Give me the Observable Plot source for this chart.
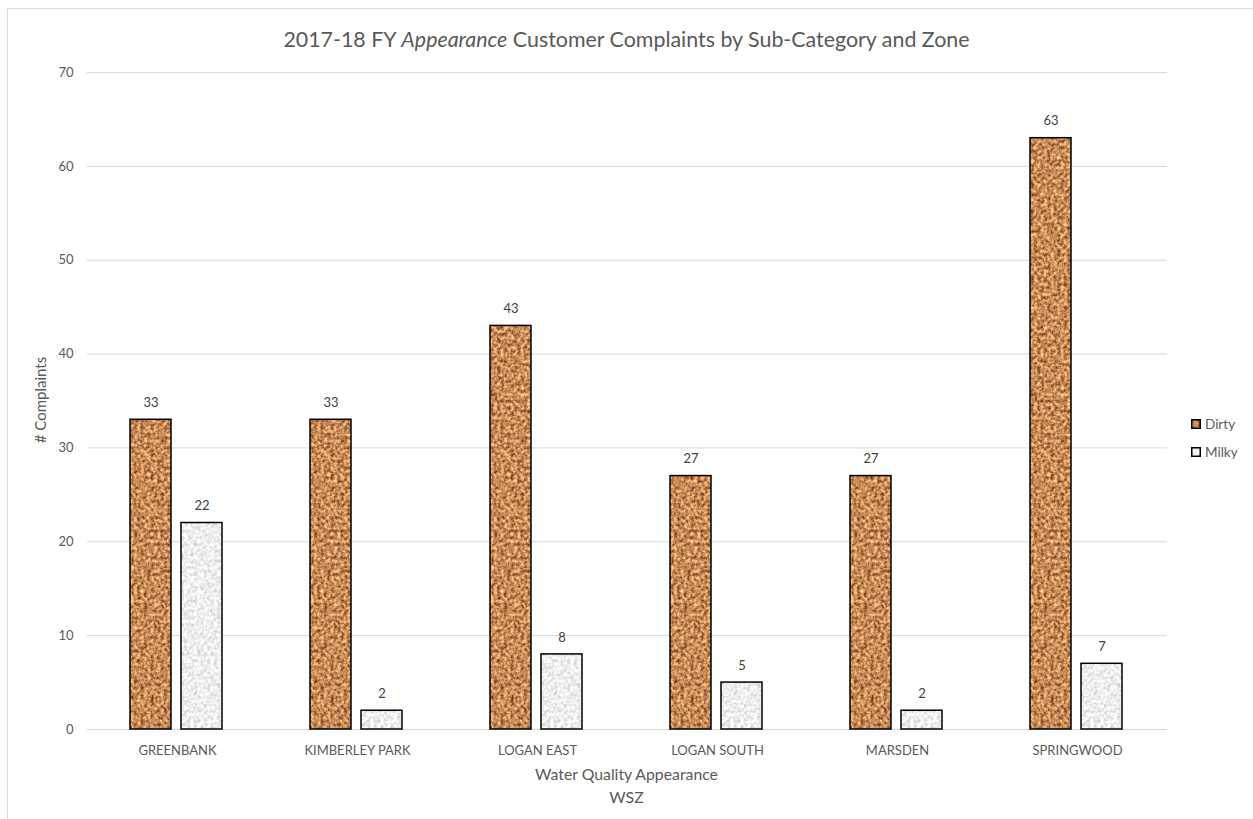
<!DOCTYPE html>
<html>
<head>
<meta charset="utf-8">
<script src="https://cdn.jsdelivr.net/npm/d3@7"></script>
<script src="https://cdn.jsdelivr.net/npm/@observablehq/plot@0.6"></script>
<style>
  html, body { margin: 0; padding: 0; background: #fff; }
  body { width: 1253px; height: 819px; position: relative; overflow: hidden; font-family: Lato, "Open Sans", sans-serif; color: #595959; }
  #frame { position: absolute; left: 7px; top: 8px; width: 1245px; height: 830px; border-left: 1.5px solid #d9d9d9; border-top: 1.5px solid #d9d9d9; }
  #chart { position: absolute; left: 0; top: 0; }
  .title { position: absolute; left: 0; width: 1253px; top: 26px; text-align: center; font-size: 21.4px; color: #595959; }
  .xtitle { position: absolute; left: 86px; width: 1081px; text-align: center; font-size: 15.8px; color: #595959; }
  .ytitle { position: absolute; left: 40px; top: 400px; transform: translate(-50%, -50%) rotate(-90deg); font-size: 15px; white-space: nowrap; color: #595959; }
  .legend { position: absolute; left: 1191px; font-size: 13.5px; color: #595959; display: flex; align-items: center; }
  .legend svg { margin-right: 4px; }
</style>
</head>
<body>
<svg width="1" height="1" style="position:absolute;left:0;top:0">
  <defs>
    <filter id="noiseDirty" x="0" y="0" width="1" height="1" color-interpolation-filters="sRGB">
      <feTurbulence type="fractalNoise" baseFrequency="0.3" numOctaves="3" seed="4" result="t"/>
      <feColorMatrix in="t" type="matrix" values="
        1.05 0 0 0 0.255
        0.95 0 0 0 0.065
        0.75 0 0 0 -0.03
        0 0 0 0 1"/>
    </filter>
    <filter id="noiseMilky" x="0" y="0" width="1" height="1" color-interpolation-filters="sRGB">
      <feTurbulence type="fractalNoise" baseFrequency="0.3" numOctaves="3" seed="9" result="t"/>
      <feColorMatrix in="t" type="matrix" values="
        0.4 0 0 0 0.735
        0.4 0 0 0 0.735
        0.4 0 0 0 0.735
        0 0 0 0 1"/>
    </filter>
    <pattern id="texDirty" patternUnits="userSpaceOnUse" x="0" y="0" width="1253" height="819">
      <rect x="0" y="0" width="1253" height="819" fill="#c98d5a" filter="url(#noiseDirty)"/>
    </pattern>
    <pattern id="texMilky" patternUnits="userSpaceOnUse" x="0" y="0" width="1253" height="819">
      <rect x="0" y="0" width="1253" height="819" fill="#ececec" filter="url(#noiseMilky)"/>
    </pattern>
  </defs>
</svg>
<div id="frame"></div>
<div id="chart"></div>
<div class="title">2017-18 FY <i>Appearance</i> Customer Complaints by Sub-Category and Zone</div>
<div class="ytitle"># Complaints</div>
<div class="xtitle" style="top:764px">Water Quality Appearance</div>
<div class="xtitle" style="top:787px">WSZ</div>
<div class="legend" style="top:416px"><svg width="10" height="10"><rect x="0.75" y="0.75" width="8.5" height="8.5" fill="url(#texDirty)" stroke="#000" stroke-width="1.5"/></svg>Dirty</div>
<div class="legend" style="top:444px"><svg width="10" height="10"><rect x="0.75" y="0.75" width="8.5" height="8.5" fill="url(#texMilky)" stroke="#000" stroke-width="1.5"/></svg>Milky</div>
<script>
const zones = ["GREENBANK", "KIMBERLEY PARK", "LOGAN EAST", "LOGAN SOUTH", "MARSDEN", "SPRINGWOOD"];
const seriesNames = ["Dirty", "Milky"];
const dirtyValues = [33, 33, 43, 27, 27, 63];
const milkyValues = [22, 2, 8, 5, 2, 7];
const yTicks = [0, 10, 20, 30, 40, 50, 60, 70];

const dirtyRows = zones.map((z, i) => ({zone: z, series: "Dirty", value: dirtyValues[i]}));
const milkyRows = zones.map((z, i) => ({zone: z, series: "Milky", value: milkyValues[i]}));
const rows = dirtyRows.concat(milkyRows);

const chart = Plot.plot({
  width: 1253,
  height: 819,
  marginTop: 72,
  marginBottom: 90,
  marginLeft: 86,
  marginRight: 86,
  style: {fontFamily: "Lato, 'Open Sans', sans-serif", fontSize: "13px", color: "#595959", background: "transparent"},
  fx: {domain: zones, paddingInner: 0, paddingOuter: 0, label: null, axis: null},
  x: {domain: seriesNames, paddingInner: 0.2, paddingOuter: 0.86, align: 0.49, axis: null},
  y: {domain: [0, 70], label: null, axis: null},
  marks: [
    Plot.gridY(yTicks, {stroke: "#d9d9d9", strokeOpacity: 1, strokeWidth: 1}),
    Plot.axisY(yTicks, {tickSize: 0, tickPadding: 14, label: null, fill: "#595959", fontSize: 13}),
    Plot.axisFx({anchor: "bottom", tickSize: 0, tickPadding: 16, label: null, fill: "#595959", fontSize: 13}),
    Plot.barY(dirtyRows, {fx: "zone", x: "series", y: "value", fill: "url(#texDirty)", stroke: "#000", strokeWidth: 1.5}),
    Plot.barY(milkyRows, {fx: "zone", x: "series", y: "value", fill: "url(#texMilky)", stroke: "#000", strokeWidth: 1.5}),
    Plot.text(rows, {fx: "zone", x: "series", y: "value", text: d => String(d.value), dy: -17, fill: "#404040", fontSize: 13})
  ]
});
document.getElementById("chart").appendChild(chart);
</script>
</body>
</html>
